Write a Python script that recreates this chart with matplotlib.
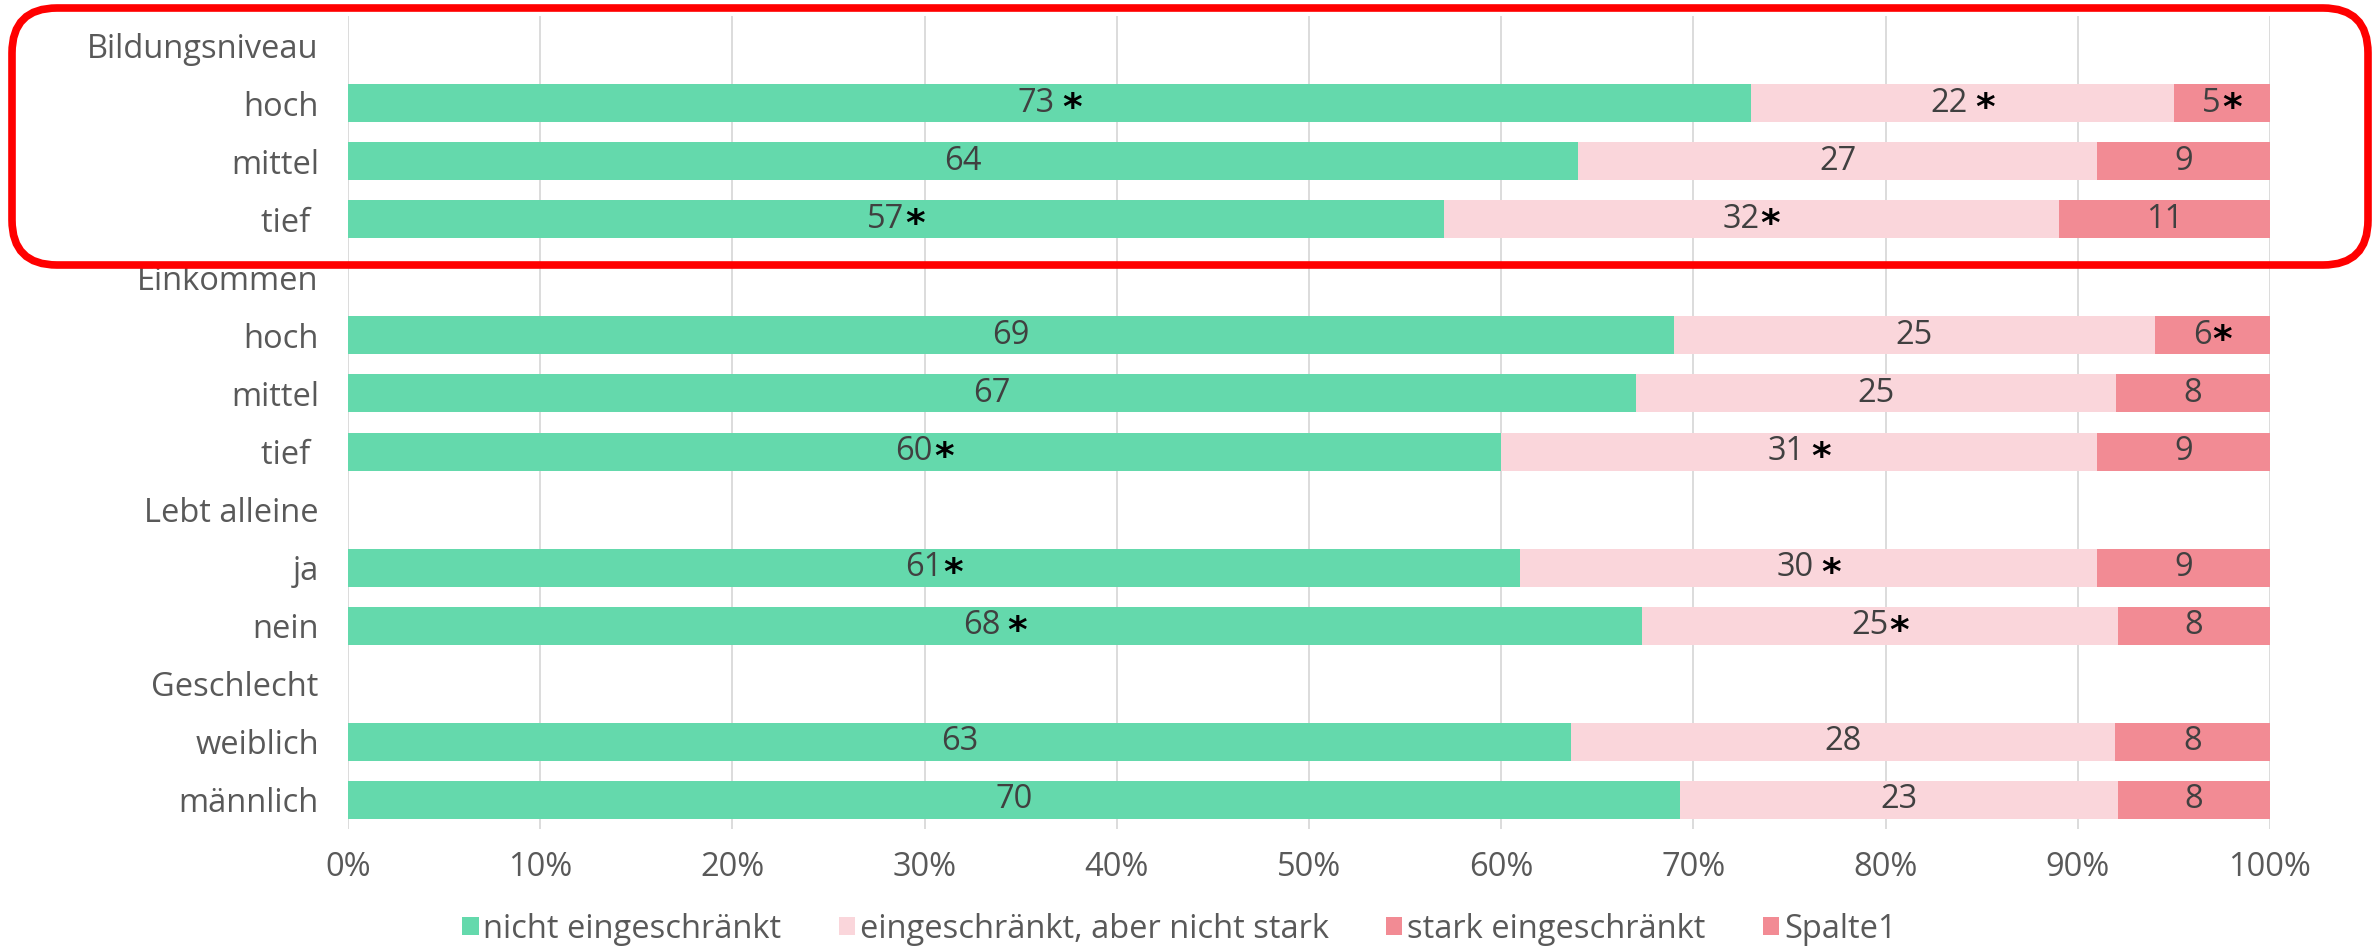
import matplotlib
matplotlib.use("Agg")
import matplotlib.pyplot as plt
from matplotlib.patches import FancyBboxPatch, Patch
from matplotlib.transforms import IdentityTransform
import numpy as np

# Row labels (group headers carry no bars)
categories = ["Bildungsniveau", "hoch", "mittel", "tief ",
              "Einkommen", "hoch", "mittel", "tief ",
              "Lebt alleine", "ja", "nein",
              "Geschlecht", "weiblich", "männlich"]

# Series values in percent
nicht_eingeschraenkt = [0, 73, 64, 57, 0, 69, 67, 60, 0, 61, 68, 0, 63, 70]
eingeschraenkt_nicht_stark = [0, 22, 27, 32, 0, 25, 25, 31, 0, 30, 25, 0, 28, 23]
stark_eingeschraenkt = [0, 5, 9, 11, 0, 6, 8, 9, 0, 9, 8, 0, 8, 8]
spalte1 = [0] * 14

# Significance markers appended to the data labels
sig_nicht = ["", " *", "", "*", "", "", "", "*", "", "*", " *", "", "", ""]
sig_eingeschraenkt = ["", " *", "", "*", "", "", "", " *", "", " *", "*", "", "", ""]
sig_stark = ["", "*", "", "", "", "*", "", "", "", "", "", "", "", ""]

series_names = ["nicht eingeschränkt", "eingeschränkt, aber nicht stark",
                "stark eingeschränkt", "Spalte1"]
colors = ["#64D9AC", "#FAD6DB", "#F28B94", "#F28B94"]

FONT = ["Open Sans", "DejaVu Sans"]
plt.rcParams["font.family"] = FONT
FS = 23.5

W, H = 2373, 948
fig = plt.figure(figsize=(W / 100, H / 100), dpi=100)
ax = fig.add_axes([348 / W, 1 - 829 / H, (2270 - 348) / W, (829 - 16) / H])

data = np.array([nicht_eingeschraenkt, eingeschraenkt_nicht_stark,
                 stark_eingeschraenkt, spalte1], dtype=float)
totals = data.sum(axis=0)
shares = np.divide(data * 100, totals, out=np.zeros_like(data), where=totals > 0)

y = np.arange(len(categories))
left = np.zeros(len(categories))
bars = []
for k in range(4):
    ax.barh(y, shares[k], left=left, height=0.655, color=colors[k],
            label=series_names[k], zorder=2, linewidth=0)
    bars.append((left.copy(), shares[k].copy()))
    left += shares[k]

ax.set_xlim(0, 100)
ax.set_ylim(len(categories) - 0.5, -0.5)
ax.set_xticks(np.arange(0, 101, 10))
ax.set_xticklabels([f"{t}%" for t in range(0, 101, 10)])
ax.set_yticks(y)
ax.set_yticklabels(categories)
ax.tick_params(axis="both", length=0, labelsize=FS, colors="#595959")
ax.tick_params(axis="x", pad=16)
ax.tick_params(axis="y", pad=21)
ax.grid(axis="x", color="#D9D9D9", linewidth=1.3, zorder=0)
ax.set_axisbelow(True)
for s in ax.spines.values():
    s.set_visible(False)

# Data labels: numbers in grey, significance asterisks in black
fig.canvas.draw()
renderer = fig.canvas.get_renderer()
value_lists = [nicht_eingeschraenkt, eingeschraenkt_nicht_stark, stark_eingeschraenkt]
sig_lists = [sig_nicht, sig_eingeschraenkt, sig_stark]
for k in range(3):
    lefts, widths = bars[k]
    for i in range(len(categories)):
        v = value_lists[k][i]
        if v == 0:
            continue
        xc = lefts[i] + widths[i] / 2
        num = ax.text(xc, i, f"{v}", ha="center", va="center", fontsize=FS,
                      color="#404040", zorder=3)
        sig = sig_lists[k][i]
        if not sig:
            continue
        wn = num.get_window_extent(renderer).width
        gap = 7 if sig.startswith(" ") else 1
        star = ax.annotate("*", xy=(xc, i), xytext=(0, 0), textcoords="offset pixels",
                           ha="left", va="center", fontsize=27, fontweight="bold",
                           color="black", zorder=3, family=["DejaVu Sans"])
        ws = star.get_window_extent(renderer).width
        total = wn + gap + ws
        shift = -total / 2 + wn / 2
        num.remove()
        ax.annotate(f"{v}", xy=(xc, i), xytext=(shift, 0), textcoords="offset pixels",
                    ha="center", va="center", fontsize=FS, color="#404040", zorder=3)
        star.xyann = (shift + wn / 2 + gap, -6)

handles = [Patch(facecolor=c, edgecolor="none") for c in colors]
fig.legend(handles, series_names, loc="center", bbox_to_anchor=(0.497, 1 - 929 / H),
           ncol=4, frameon=False, fontsize=FS, labelcolor="#595959",
           handlelength=0.5, handleheight=0.5, handletextpad=0.15, columnspacing=1.75)

# Highlight frame around the education group
frame = FancyBboxPatch((12, H - 265), 2356, 257,
                       boxstyle="round,pad=0,rounding_size=45",
                       transform=IdentityTransform(), fill=False,
                       edgecolor="#FF0000", linewidth=5.5, zorder=10)
fig.add_artist(frame)

fig.savefig("out.png", dpi=100, facecolor="white")
